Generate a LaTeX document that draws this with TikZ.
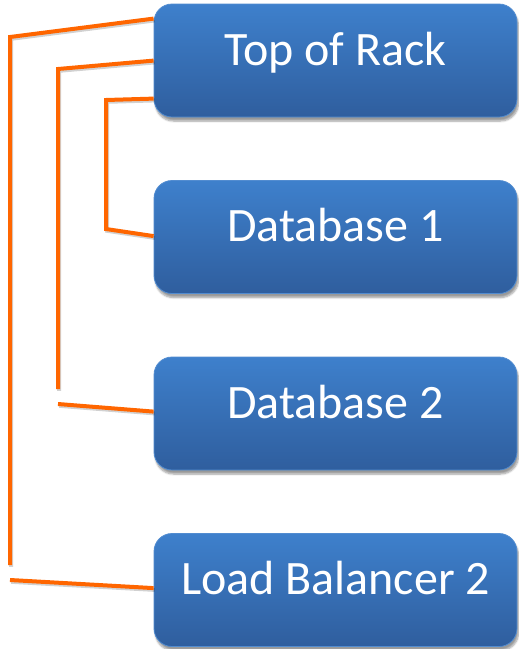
\documentclass[tikz,border=0pt]{standalone}
\usepackage{fontspec}
\setmainfont{Carlito}
\usetikzlibrary{calc,shadows.blur}
\definecolor{wireorange}{RGB}{255,102,0}
\definecolor{boxtop}{RGB}{62,128,204}
\definecolor{boxbot}{RGB}{47,94,158}
\definecolor{boxedge}{RGB}{82,140,208}
\begin{document}
\begin{tikzpicture}[x=1pt,y=-1pt,
  unit/.style={rectangle, rounded corners=18pt, minimum width=363pt,
    minimum height=113pt, inner sep=0pt, text height=20pt, text depth=11pt,
    top color=boxtop, bottom color=boxbot, draw=boxedge, line width=0.8pt,
    text=white, font=\fontsize{48}{48}\selectfont,
    blur shadow={shadow xshift=1.5pt, shadow yshift=-4pt,
      shadow blur steps=6, shadow opacity=40}},
  link/.style={draw=wireorange, line width=4pt, line join=miter,
    preaction={draw=black, opacity=0.18, line width=4pt,
      transform canvas={shift={(1.2pt,-1.8pt)}}}}]
\useasboundingbox (0,0) rectangle (519,649);

% device boxes
\node[unit] (tor) at (335.5,60.5) {Top of Rack};
\node[unit] (db1) at (335.5,237) {Database 1};
\node[unit] (db2) at (335.5,413.5) {Database 2};
\node[unit] (lb)  at (335.5,590) {Load Balancer 2};

% cable bends and loose ends
\coordinate (t1) at (10,37);
\coordinate (b1) at (10,565);
\coordinate (s1) at (10,580);
\coordinate (t2) at (58,69);
\coordinate (b2) at (58,389);
\coordinate (s2) at (58,404);
\coordinate (t3) at (106,100);
\coordinate (b3) at (106,229);

% cables
\draw[link] ($(tor.north west)+(0,15)$) -- (t1) -- (b1);
\draw[link] (s1) -- ($(lb.north west)+(0,55)$);
\draw[link] ($(tor.north west)+(0,57)$) -- (t2) -- (b2);
\draw[link] (s2) -- ($(db2.north west)+(0,55)$);
\draw[link] ($(tor.north west)+(0,95)$) -- (t3) -- (b3) -- ($(db1.north west)+(0,56)$);
\end{tikzpicture}
\end{document}
